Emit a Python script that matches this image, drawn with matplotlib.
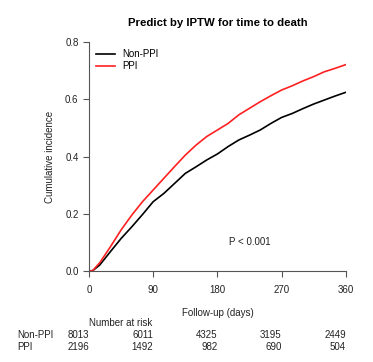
import matplotlib
matplotlib.use("Agg")
import matplotlib.pyplot as plt

plt.rcParams['font.family'] = ['Liberation Sans', 'DejaVu Sans']

# follow-up days and cumulative incidence
days = [0, 5, 15, 30, 45, 60, 75, 90, 105, 120, 135, 150, 165, 180, 195, 210,
        225, 240, 255, 270, 285, 300, 315, 330, 345, 360]
non_ppi = [0.0, 0.0, 0.020, 0.067, 0.113, 0.154, 0.197, 0.242, 0.271, 0.306,
           0.341, 0.364, 0.388, 0.409, 0.435, 0.458, 0.475, 0.493, 0.516,
           0.537, 0.551, 0.568, 0.584, 0.598, 0.612, 0.625]
ppi = [0.0, 0.0, 0.028, 0.084, 0.143, 0.195, 0.242, 0.283, 0.324, 0.365,
       0.405, 0.440, 0.470, 0.493, 0.516, 0.546, 0.569, 0.592, 0.613, 0.633,
       0.648, 0.665, 0.680, 0.697, 0.709, 0.722]

risk_days = [0, 90, 180, 270, 360]
risk_non_ppi = [8013, 6011, 4325, 3195, 2449]
risk_ppi = [2196, 1492, 982, 690, 504]

fig = plt.figure(figsize=(3.73, 3.62), dpi=100)
ax = fig.add_axes([0.2386, 0.252, 0.6884, 0.631])

ax.plot(days, non_ppi, color='black', lw=1.2, label='Non-PPI')
ax.plot(days, ppi, color='#ff2020', lw=1.2, label='PPI')

ax.set_xlim(0, 360)
ax.set_ylim(0, 0.8)
ax.set_xticks(risk_days)
ax.set_yticks([0.0, 0.2, 0.4, 0.6, 0.8])
ax.set_yticklabels(['0.0', '0.2', '0.4', '0.6', '0.8'])
for s in ['top', 'right']:
    ax.spines[s].set_visible(False)
for s in ['left', 'bottom']:
    ax.spines[s].set_color('#555555')
    ax.spines[s].set_linewidth(0.8)
ax.tick_params(colors='#555555', labelcolor='#222222', labelsize=7,
               length=4, width=0.8)
ax.tick_params(axis='x', pad=6)

ax.set_title('Predict by IPTW for time to death', fontsize=8.2,
             fontweight='bold', pad=12)
ax.set_ylabel('Cumulative incidence', fontsize=7, labelpad=7, color='#222222')

ax.legend(loc='upper left', frameon=False, fontsize=7, handlelength=2.0,
          borderaxespad=0.3, labelspacing=0.2, handletextpad=0.7)
ax.text(196, 0.09, 'P < 0.001', fontsize=7, color='#222222')

# x label and number at risk table
trans = ax.get_xaxis_transform()
ax.text(180, -0.184, 'Follow-up (days)', transform=trans, fontsize=7,
        color='#222222', va='center', ha='center')
ax.text(0, -0.228, 'Number at risk', transform=trans, fontsize=7,
        color='#222222', va='center')
for row, (name, vals) in enumerate([('Non-PPI', risk_non_ppi), ('PPI', risk_ppi)]):
    yy = -0.2815 - 0.052 * row
    ax.text(-101, yy, name, transform=trans, fontsize=7, color='#222222',
            va='center', clip_on=False)
    for d, v in zip(risk_days, vals):
        ax.text(d, yy, str(v), transform=trans, fontsize=7, color='#222222',
                va='center', ha='right', clip_on=False)

fig.savefig('out.png', dpi=100)
